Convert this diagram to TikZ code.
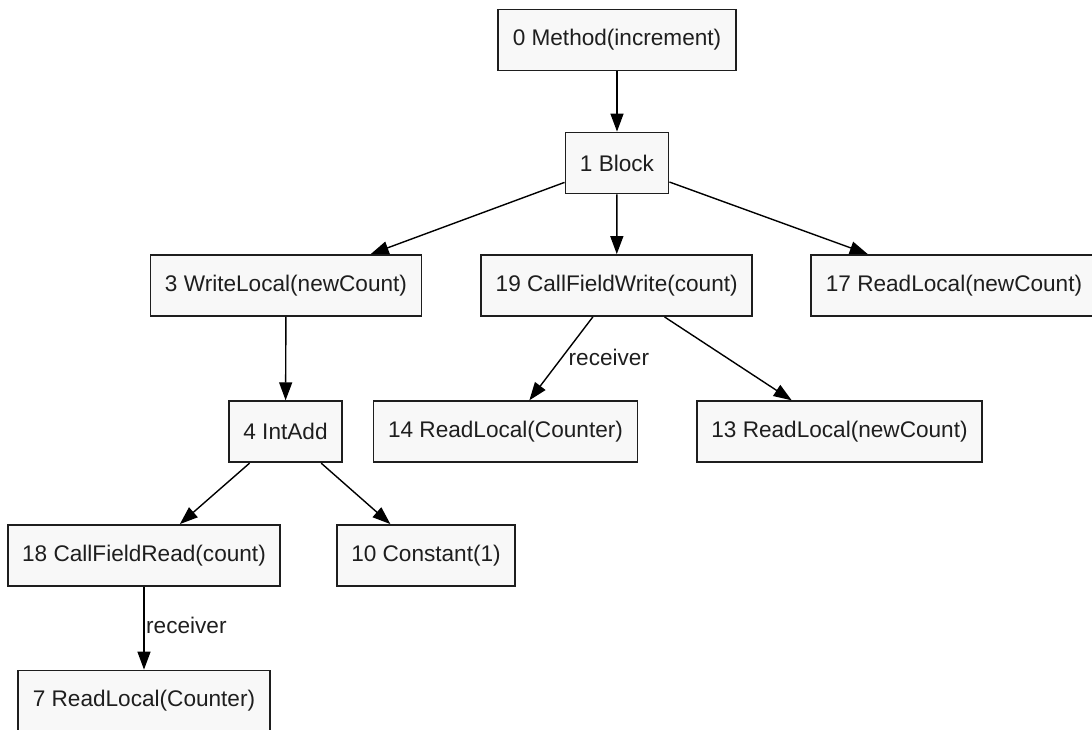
\documentclass[tikz,border=0pt]{standalone}
\usepackage{fontspec}
\setmainfont{Liberation Sans}
\usetikzlibrary{arrows.meta}
\definecolor{boxfill}{HTML}{F8F8F8}
\definecolor{ink}{HTML}{1E1E1E}
\begin{document}
\begin{tikzpicture}[x=1pt,y=-1pt,
  irnode/.style={draw=ink, line width=1.8pt, fill=boxfill, text=ink,
    minimum height=61pt, inner xsep=14.5pt, inner ysep=0pt,
    font=\fontsize{22.6}{27}\selectfont},
  flow/.style={draw=black, line width=1.4pt,
    -{Triangle[length=18pt,width=13pt]}},
  edgelabel/.style={inner sep=0pt, anchor=base west, text=ink,
    font=\fontsize{22.6}{27}\selectfont}]
\clip (0,0) rectangle (1092,730);

% method root and its block
\node[irnode] (n0)  at (617,40)      {0 Method(increment)};
\node[irnode] (n1)  at (617,163)     {1 Block};

% statements of the block
\node[irnode] (n3)  at (286,285.5)   {3 WriteLocal(newCount)};
\node[irnode] (n19) at (616.7,285.5) {19 CallFieldWrite(count)};
\node[irnode] (n17) at (954,285.5)   {17 ReadLocal(newCount)};

% operands
\node[irnode] (n4)  at (285.5,431.7) {4 IntAdd};
\node[irnode] (n14) at (505.5,431.7) {14 ReadLocal(Counter)};
\node[irnode] (n13) at (839.5,431.7) {13 ReadLocal(newCount)};

\node[irnode] (n18) at (144,555.5)   {18 CallFieldRead(count)};
\node[irnode] (n10) at (426,555.5)   {10 Constant(1)};

\node[irnode] (n7)  at (144,701)     {7 ReadLocal(Counter)};

% tree edges
\draw[flow] (n0) -- (n1);
\draw[flow] (n1) -- (n3);
\draw[flow] (n1) -- (n19);
\draw[flow] (n1) -- (n17);
\draw[flow] (n3) -- (n4);
\draw[flow] (n19) -- (n14);
\draw[flow] (n19) -- (n13);
\draw[flow] (n4) -- (n18);
\draw[flow] (n4) -- (n10);
\draw[flow] (n18) -- (n7);

% edge labels
\node[edgelabel] (lab19) at (568.5,365) {receiver};
\node[edgelabel] (lab18) at (146,633)   {receiver};
\end{tikzpicture}
\end{document}
